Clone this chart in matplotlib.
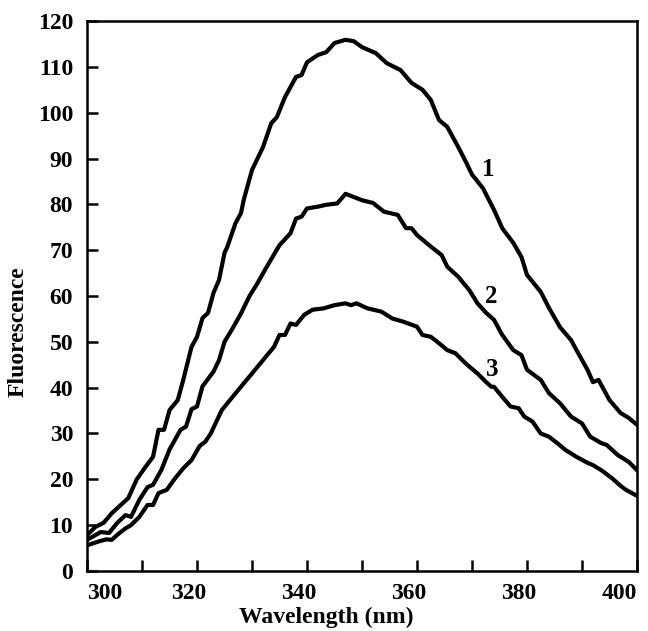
import numpy as np
import matplotlib
matplotlib.use('Agg')
import matplotlib.pyplot as plt
import matplotlib.transforms as mtransforms

plt.rcParams['font.family'] = ['Liberation Serif', 'DejaVu Serif']
plt.rcParams['font.weight'] = 'bold'

# curve 1
wl_1 = [300, 301.5, 303, 304.5, 305.5, 307.5, 309, 310.5, 312, 313, 314, 315, 316.5,
        317.5, 319, 320, 321, 322, 323, 324, 325, 325.5, 327, 328, 328.5, 330, 332,
        333.5, 334.5, 336, 337, 338, 339, 340, 342, 343.5, 345, 347, 348.5, 350,
        352.5, 354.5, 357, 359, 361, 362.5, 364, 365.5, 367.5, 369, 370, 372, 374,
        375.5, 377.5, 379, 380, 382.5, 384, 386, 388, 389, 391, 392, 393, 395, 397,
        398.5, 400]
fl_1 = [7.8, 9.6, 10.5, 12.6, 13.7, 15.9, 19.9, 22.5, 24.9, 30.8, 30.8, 35.1, 37.3,
        41.7, 48.9, 51.1, 55.2, 56.3, 60.7, 63.5, 69.4, 70.7, 75.9, 78.1, 81.0, 87.5, 92.5,
        97.7, 99.0, 103.4, 105.6, 107.8, 108.2, 111.0, 112.6, 113.2, 115.2, 115.9, 115.6, 114.3,
        113.0, 110.8, 109.3, 106.5, 105.0, 102.8, 98.4, 96.9, 92.5, 89.0, 86.5, 83.5, 78.8,
        74.8, 71.6, 68.5, 64.6, 60.9, 57.4, 53.2, 50.4, 48.2, 43.9, 41.2, 41.7, 37.3, 34.5,
        33.4, 31.9]

# curve 2
wl_2 = [300, 302.5, 304, 305.5, 307, 308, 309.5, 311, 312, 313.5, 315, 317, 318, 319,
        320, 321, 323, 324, 325, 326.5, 328, 329.5, 331, 332.5, 335, 337, 338, 339, 340,
        342, 343.5, 345.5, 347, 350, 352, 354, 356.5, 358, 359, 360, 362.5, 364.5, 365.5,
        367.5, 369.5, 371, 372.5, 374, 375.5, 377.5, 379, 380, 382.5, 384, 386, 388, 390,
        391.5, 393.5, 394.5, 396.5, 398.5, 400]
fl_2 = [6.8, 8.5, 8.3, 10.5, 12.2, 11.8, 15.5, 18.3, 18.8, 22.0, 26.5, 30.8, 31.5, 35.3,
        35.9, 40.3, 43.5, 46.0, 50.0, 53.0, 56.2, 59.9, 62.8, 66.0, 71.1, 73.7, 76.9, 77.3, 79.1,
        79.5, 79.9, 80.2, 82.3, 80.9, 80.3, 78.4, 77.7, 74.8, 74.8, 73.3, 70.8, 68.9, 66.4,
        64.2, 61.3, 58.4, 56.4, 54.8, 51.5, 48.2, 47.1, 43.9, 41.7, 38.8, 36.6, 33.7, 32.2,
        29.3, 27.9, 27.5, 25.3, 23.8, 22.0]

# curve 3
wl_3 = [300, 302, 303.5, 304.5, 305.5, 307, 308, 309.5, 311, 312, 313, 314.5, 316, 317.5,
        319, 320.5, 321.5, 322.5, 324.5, 327.5, 330, 332, 334, 335, 336, 337, 338, 339.5,
        341, 343, 345, 347, 348, 349, 351, 353.5, 355.5, 357.5, 360, 361, 362.5, 364,
        365.5, 367, 368.5, 369.5, 371, 372.5, 373.5, 374, 375.5, 377, 378.5, 379.5, 381,
        382.5, 384, 385.5, 387, 389, 391, 392, 393.5, 395.5, 397, 398, 400]
fl_3 = [5.6, 6.4, 6.9, 6.8, 7.9, 9.3, 10.0, 11.8, 14.4, 14.4, 17.0, 17.7, 20.2, 22.4,
        24.2, 27.3, 28.2, 30.0, 35.1, 39.5, 43.1, 46.0, 48.9, 51.5, 51.5, 54.0, 53.7, 55.9,
        57.0, 57.3, 58.0, 58.4, 58.0, 58.4, 57.3, 56.6, 55.1, 54.4, 53.3, 51.5, 51.1, 49.7,
        48.2, 47.5, 45.7, 44.6, 43.1, 41.3, 40.2, 40.2, 38.0, 35.9, 35.5, 33.7, 32.6,
        30.0, 29.3, 27.9, 26.4, 24.9, 23.6, 23.1, 22.0, 20.2, 18.6, 17.7, 16.4]

curve_labels = ['1', '2', '3']
label_pos = [(372.9, 87.5), (373.5, 59.8), (373.6, 43.9)]

fig = plt.figure(figsize=(6.48, 6.31), dpi=100)
ax = fig.add_axes([0.1343, 0.0951, 0.8487, 0.8716])

for wl, fl in [(wl_1, fl_1), (wl_2, fl_2), (wl_3, fl_3)]:
    ax.plot(wl, fl, color='black', linewidth=3.0, solid_joinstyle='round')

for txt, (x, y) in zip(curve_labels, label_pos):
    ax.text(x, y, txt, fontsize=18, fontweight='bold', ha='center', va='center')

ax.set_xlim(300, 400)
ax.set_ylim(0, 120)
ax.set_xticks(np.arange(300, 401, 10))
ax.set_xticklabels(['300', '', '320', '', '340', '', '360', '', '380', '', '400'])
ax.set_yticks(np.arange(0, 121, 10))
ax.tick_params(direction='in', length=8, width=1.8, labelsize=17, top=False, right=False)
ax.tick_params(axis='x', pad=9)
ax.tick_params(axis='y', pad=10)

for s in ax.spines.values():
    s.set_linewidth(1.8)

# labels sit a bit left of their ticks; the end ones stay inside the frame
labs = ax.get_xticklabels()
shift = mtransforms.ScaledTranslation(-8 / 100, 0, fig.dpi_scale_trans)
for i, lab in enumerate(labs):
    lab.set_fontweight('bold')
    if i == 0:
        lab.set_horizontalalignment('left')
    elif i == len(labs) - 1:
        lab.set_horizontalalignment('right')
    else:
        lab.set_transform(lab.get_transform() + shift)
for lab in ax.get_yticklabels():
    lab.set_fontweight('bold')

ax.set_xlabel('Wavelength (nm)', fontsize=17, fontweight='bold')
ax.set_ylabel('Fluorescence', fontsize=17, fontweight='bold')
ax.xaxis.set_label_coords(0.435, -0.066)
ax.xaxis.label.set_verticalalignment('top')
ax.yaxis.set_label_coords(-0.107, 0.436)

fig.savefig('out.png', dpi=100)
